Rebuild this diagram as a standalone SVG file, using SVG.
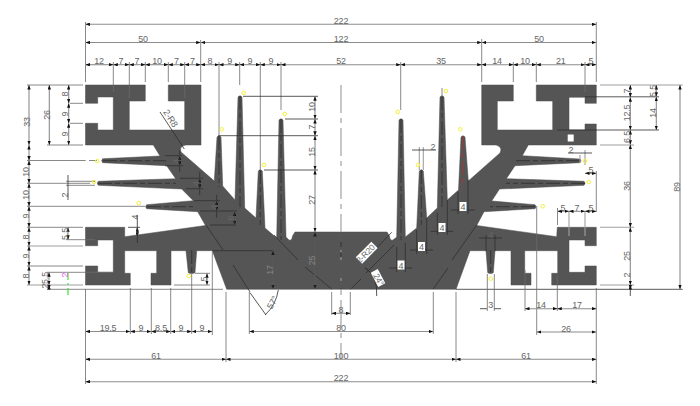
<svg xmlns="http://www.w3.org/2000/svg" width="700" height="406" viewBox="0 0 700 406">
<style>
text{font-family:"Liberation Sans",Arial,sans-serif;font-size:9px;letter-spacing:-.2px;fill:#666;text-anchor:middle}
.p{fill:#555;stroke:#4a4a4a;stroke-width:.5}
.d{stroke:#8c8c8c;stroke-width:1.1;fill:none;marker-start:url(#a);marker-end:url(#a)}
.e{stroke:#6a6a6a;stroke-width:.8;fill:none}
.g{stroke:#a0a0a0;stroke-width:1.1;fill:none}
.k{stroke:#2e2e2e;stroke-width:.8;fill:none}
.c{stroke:#333;stroke-width:.9;fill:none;stroke-dasharray:14 3 5 3}
.y{fill:none;stroke:#f4f03c;stroke-width:1}
.w{fill:#fff}
</style>
<defs>
<marker id="a" viewBox="0 0 8 6" refX="8" refY="3" markerWidth="4.5" markerHeight="3.4" markerUnits="userSpaceOnUse" orient="auto-start-reverse"><path d="M0 0L8 3L0 6Z" fill="#111"/></marker>
</defs>
<rect width="700" height="406" fill="#fff"/>
<path class="p" d="M85.5 85H145.3V101H129.3V130H184.7V101H168.3V85H201V145H186Q179 146 181 152L214.3 181L217 137Q219 134.5 221 137L222.7 186L235 200L238 97Q240 94.5 242 97L244.7 208L256 218L258.3 171Q260.3 168.5 262.3 171L265 228L276.7 238L279 120Q281 117.5 283 120L286 237L289 240Q292 241 292.5 236L295 232H387L389.5 236Q390 241 393 240L396.7 237L399 120Q401 117.5 403 120L405.3 237L416.7 228L419.3 171Q421.3 168.5 423.3 171L426.7 218L437.3 208L440 97Q442 94.5 444 97L447.3 200L458.5 190L461 137Q463 134.5 465 137L468.3 181L500 153Q503 147 496 145H481.7V85H513.3V101H497.3V130H552.7V101H536.3V85H596.3V103.3H585V97.3H569V130H585V124H596.3V145H528.3L522.3 155.7L580 159Q582 160.7 580 162.7L515 165.7L506.3 178.7L584 181.3Q586 183.3 584 185.3L499.5 189L491.7 201L535 204.7Q537 206.7 535 208.7L484 211.7L476.7 225.5L556.7 236.7L557.3 227.3H596.3V245.7H585V240H569V272.3H585V266H596.3V285H551.7V273.3H557.7V250.7H524.7V273.3H531V285H511V250.7H495L493.3 272.7Q490.7 274.5 487.7 272.7L486 250.7H470L456 289.3H226.7L212.3 250.7H196.7L195 272.7Q191.7 274.5 188.3 272.7L186 250.7H171V285H151V273.3H156.7V250.7H124.7V273.3H130.3V285H85.5V266H97.7V272.3H113.3V240H97.7V245.7H85.5V227.3H124.7V236.7L205.5 225.5L197.7 211.7L146.7 208.7Q144.7 206.7 146.7 204.7L193.3 200.7L181.7 189L98.3 185.3Q96.3 183.3 98.3 181.3L175.7 178.7L166.7 165.7L102.7 162.7Q100.7 160.7 102.7 158.7L160 156L153.3 145H85.5V123.3H97.7V130H113.3V97H97.7V103.3H85.5Z"/>
<rect class="w" x="567.7" y="134.5" width="6" height="7"/>
<g id="fin-centres">
<path class="c" d="M103 160.7H166M98 183.3H176M147 206.7H193M580 160.7H516M585 183.3H506M535 206.7H490"/>
<path class="c" d="M219 136V187M240 96V207M260.3 170V225M281 119V240M401 119V240M421.3 170V225M442 96V207M191.7 250V273M490.7 250V273"/>
<path d="M463 136V187" stroke="#a03a3a" stroke-width="1" stroke-dasharray="14 3 5 3" fill="none"/>
</g>
<g id="inner-lines">
<path class="k" d="M206 225L223 250M233 265L250 292M274 235L298 260M305 267L331.7 289M350.7 289L361 279M366 273L394 245M433.3 289L448 268M452 260L476.7 225"/>
<path class="k" d="M212 250.7H273M128 227.3H140M165 155.7H182M165 165.7H183M180 178.3H203M186 188.7H203M194 200.7H220M200 211H237M210 225H236"/>
</g>
<g id="extension-lines">
<path class="e" d="M85.5 22V82M596.3 22V82M200.7 40V82M481.7 39V82M113.3 62V92M129.3 62V98M145.3 62V82M168.3 62V82M184.7 62V98M219 62V135M239.7 62V85M260.3 62V170M281 62V110M400.7 62V110M442 88V97M513.3 62V82M536.3 62V82M585 62V92"/>
<path class="e" d="M27 85H83M47 145H83M27 160.5H85.7M89 160.5H97M27 183.3H90M66 181.3H95M66 185.3H95M27 206.3H145M27 227.3H83M27 266H83M70 103.3H83M70 123.3H83M66 239.7H95M47 272.3H113M47 289.3H223"/>
<path class="g" d="M27 246H83M27 285H83M600 85H682.7M600 145H634M600 227.3H634M600 285H634"/>
<path class="k" d="M585 96.8H659M557 130H659M243 96.3H318M285 119H318M218 135.7H318M264 170H318M456 289.3H682.7"/>
<path class="e" d="M85.5 289V384M596.3 288V384M130.3 288V334M151.3 288V334M170.7 288V334M191.7 273V334M212.3 252V335M226 292V362M456 292V362M249.3 292V334M433.3 292V334M331.7 292V315M350.3 292V315"/>
<path class="e" d="M525 270V311M557.3 276V311M536.7 206V335M487.3 274V311M494.3 274V311M174 285H210M195 273.3H210M596.3 171V212M557.5 208V225"/>
<path class="g" d="M569 211V236M585 211V236M585 150V165M580 155V163M419.3 147V170M423.3 147V170"/>
<path class="k" d="M396.7 247V272M405.3 243V272M416.7 230V254M426.7 218V254M437.3 213V235M447.3 200V235M458 192V214M468 180V214M486 235V251M495 235V251"/>
</g>
<g id="dimensions">
<path class="d" d="M85.5 24.3H596.3"/>
<path class="d" d="M85.5 42.5H200.7"/><path class="d" d="M200.7 42.5H481.7"/><path class="d" d="M481.7 42.5H596.3"/>
<path class="d" d="M85.5 64.7H113.3"/><path class="d" d="M113.3 64.7H129.3"/><path class="d" d="M129.3 64.7H145.3"/><path class="d" d="M145.3 64.7H168.3"/><path class="d" d="M168.3 64.7H184.7"/><path class="d" d="M184.7 64.7H200.7"/><path class="d" d="M200.7 64.7H219"/><path class="d" d="M219 64.7H239.7"/><path class="d" d="M239.7 64.7H260.3"/><path class="d" d="M260.3 64.7H281"/><path class="d" d="M281 64.7H400.7"/><path class="d" d="M400.7 64.7H481.7"/><path class="d" d="M481.7 64.7H513.3"/><path class="d" d="M513.3 64.7H536.3"/><path class="d" d="M536.3 64.7H585"/><path class="d" d="M585 64.7H596.3"/>
<path class="d" d="M29 85V145"/><path class="d" d="M29 145V160.5"/><path class="d" d="M29 160.5V183.3"/><path class="d" d="M29 183.3V206.3"/><path class="d" d="M29 206.3V227.3"/><path class="d" d="M29 227.3V246"/><path class="d" d="M29 246V266"/><path class="d" d="M29 266V285"/>
<path class="d" d="M49.3 85V145"/>
<path class="d" d="M68.7 85V103.3"/><path class="d" d="M68.7 103.3V123.3"/><path class="d" d="M68.7 123.3V145"/>
<path class="d" d="M68 227.3V239.7"/><path class="d" d="M49 272.3V285"/><path class="d" d="M49 285V289.3"/>
<path class="k" d="M68 175V200"/>
<path class="d" d="M137.3 227.3V236.7"/><path class="k" d="M137.3 215V243"/>
<path class="d" d="M179.7 155.7V165.7"/><path class="d" d="M199.7 178.3V188.7"/><path class="d" d="M216.7 200.7V211"/><path class="d" d="M234.7 211.7V225"/>
<path class="k" d="M179.7 150V172M199.7 172V195M216.7 195V218M234.7 211.7V225"/>
<path class="d" d="M207 273.3V285"/>
<path class="d" d="M315 96.3V119"/><path class="d" d="M315 119V135.7"/><path class="d" d="M315 135.7V170"/><path class="d" d="M315 170V232"/><path class="d" d="M315 232V289"/>
<path class="d" d="M273 250.7V289"/>
<path class="k" d="M315 232V289M273 250.7V289"/>
<path class="d" d="M630.3 85V97.3"/><path class="d" d="M630.3 97.3V130"/><path class="d" d="M630.3 130V144.7"/><path class="d" d="M630.3 144.7V227.3"/><path class="d" d="M630.3 227.3V285"/><path class="d" d="M630.3 285V289.3"/><path class="k" d="M630.3 289.3V296"/>
<path class="d" d="M656.3 85V96.8"/><path class="d" d="M656.3 96.8V130"/><path class="d" d="M680 85V289.3"/>
<path class="d" d="M85.5 331.5H130.3"/><path class="d" d="M130.3 331.5H151.3"/><path class="d" d="M151.3 331.5H170.7"/><path class="d" d="M170.7 331.5H191.7"/><path class="d" d="M191.7 331.5H212.3"/>
<path class="d" d="M85.5 359.3H226"/><path class="d" d="M226 359.3H456"/><path class="d" d="M456 359.3H596.3"/>
<path class="d" d="M85.5 381.7H596.3"/>
<path class="d" d="M249.3 331.5H433.3"/><path class="d" d="M331.7 313.3H350.3"/>
<path class="d" d="M557.5 211.3H569"/><path class="d" d="M569 211.3H585"/><path class="d" d="M585 211.3H596.3"/>
<path class="d" d="M585 173.3H596.3"/>
<path class="d" d="M525 308.7H557.3"/><path class="d" d="M557.3 308.7H596.3"/><path class="d" d="M536.7 332H596.3"/>
<path class="k" d="M480 308.7H487M494.3 308.7H501M479 238H502M568 153H592M412 150H436M389.3 268H412.3M410 250H433M430.7 231.3H453M451 210H475"/>
<path class="k" d="M160 112L184.3 149M391.7 232.3L376.7 248M365 267.7L376 277"/>
<path class="k" d="M365 267.7Q378 276 376.7 296M250 292.7L266 315M278.3 290Q276 305 265 315"/>
<path d="M341 85V360" stroke="#999" stroke-width="1.1" fill="none" stroke-dasharray="28 5 5 5"/>
<path d="M341 232V289" stroke="#333" stroke-width="1" fill="none" stroke-dasharray="18 3 4 3"/>
</g>
<g id="markers">
<circle class="y" cx="221.7" cy="129.3" r="1.8"/><circle class="y" cx="243.7" cy="93" r="1.8"/><circle class="y" cx="284.7" cy="114" r="1.8"/><circle class="y" cx="264" cy="165" r="1.8"/><circle class="y" cx="397.7" cy="112" r="1.8"/><circle class="y" cx="418" cy="165" r="1.8"/><circle class="y" cx="446" cy="91" r="1.8"/><circle class="y" cx="460.3" cy="129.3" r="1.8"/><circle class="y" cx="97.3" cy="161" r="1.8"/><circle class="y" cx="94" cy="182" r="1.8"/><circle class="y" cx="138.7" cy="203" r="1.8"/><circle class="y" cx="188.7" cy="276" r="1.8"/><circle class="y" cx="490.7" cy="278.7" r="1.8"/><circle class="y" cx="542.7" cy="206.3" r="1.8"/><circle class="y" cx="585" cy="161" r="1.8"/><circle class="y" cx="588.7" cy="182" r="1.8"/>
<path d="M68 273V296" stroke="#37e637" stroke-width="1.2" fill="none" stroke-dasharray="7 3 2 3"/>
</g>
<g id="masks">
<rect class="w" x="397.5" y="260.5" width="7" height="9"/><rect class="w" x="418" y="242" width="7" height="9"/><rect class="w" x="438.5" y="223" width="7" height="9"/><rect class="w" x="459.5" y="202" width="7" height="9"/>
<rect class="w" x="-11" y="-4.5" width="22" height="9" transform="translate(366.7 252.7) rotate(-45)"/>
<rect class="w" x="-8" y="-4" width="16" height="8" transform="translate(378 278) rotate(62)"/>
</g>
<g id="labels">
<text x="341" y="24">222</text><text x="143" y="42">50</text><text x="341" y="42">122</text><text x="539" y="42">50</text>
<text x="99" y="64">12</text><text x="121" y="64">7</text><text x="137" y="64">7</text><text x="157" y="64">10</text><text x="176.5" y="64">7</text><text x="192.5" y="64">7</text><text x="210" y="64">8</text><text x="229.7" y="64">9</text><text x="250" y="64">9</text><text x="271" y="64">9</text><text x="341" y="64">52</text><text x="441" y="64">35</text><text x="497" y="64">14</text><text x="525" y="64">10</text><text x="560.7" y="64">21</text><text x="591" y="64">5</text>
<g>
<text transform="translate(29.5 122) rotate(-90)">33</text><text transform="translate(49.5 115) rotate(-90)">26</text>
<text transform="translate(68 94) rotate(-90)">8</text><text transform="translate(68 114) rotate(-90)">9</text><text transform="translate(68 134) rotate(-90)">9</text>
<text transform="translate(29 172) rotate(-90)">10</text><text transform="translate(29 195) rotate(-90)">10</text><text transform="translate(29 216) rotate(-90)">9</text><text transform="translate(29 237) rotate(-90)">8</text><text transform="translate(29 256) rotate(-90)">9</text><text transform="translate(29 276) rotate(-90)">8</text>
<text transform="translate(67.5 195) rotate(-90)">2</text><text transform="translate(67.5 234) rotate(-90)">5.5</text><text transform="translate(47.5 278) rotate(-90)">5.5</text><text transform="translate(47.5 286) rotate(-90)">2</text>
<text transform="translate(67.5 275) rotate(-90)" style="fill:#f060f0">2</text>
<text transform="translate(137.5 217) rotate(-90)">4</text><text transform="translate(179 161) rotate(-90)">4</text><text transform="translate(199 183.5) rotate(-90)">4</text><text transform="translate(216.5 207) rotate(-90)">4</text><text transform="translate(234 218) rotate(-90)">6</text><text transform="translate(206.5 279) rotate(-90)">5</text>
<text transform="translate(314.5 107) rotate(-90)">10</text><text transform="translate(314.5 127) rotate(-90)">7</text><text transform="translate(314.5 152) rotate(-90)">15</text><text transform="translate(314.5 200) rotate(-90)">27</text><text transform="translate(314.5 260.5) rotate(-90)" style="fill:#888">25</text><text transform="translate(272.5 270) rotate(-90)" style="fill:#888">17</text>
<text transform="translate(630 91) rotate(-90)">7</text><text transform="translate(630 113) rotate(-90)">12.5</text><text transform="translate(630 137) rotate(-90)">6.5</text><text transform="translate(630 186) rotate(-90)">36</text><text transform="translate(630 256) rotate(-90)">25</text><text transform="translate(630 275) rotate(-90)">2</text>
<text transform="translate(656 91) rotate(-90)">5.5</text><text transform="translate(655.5 113) rotate(-90)">14</text><text transform="translate(679.5 187) rotate(-90)">89</text>
</g>
<text x="108" y="331">19.5</text><text x="141" y="331">9</text><text x="161" y="331">8.5</text><text x="181" y="331">9</text><text x="202" y="331">9</text>
<text x="156" y="359">61</text><text x="341" y="359">100</text><text x="526" y="359">61</text><text x="341" y="381">222</text>
<text x="341" y="331">80</text><text x="341" y="313">8</text>
<text x="563" y="210.5">5</text><text x="577" y="210.5">7</text><text x="591" y="210.5">5</text>
<text x="591" y="173">5</text><text x="571" y="153">2</text><text x="433" y="150">2</text>
<text x="541" y="308">14</text><text x="577" y="308">17</text><text x="566" y="331.5">26</text><text x="490.7" y="308">3</text><text x="490.7" y="238">4</text>
<text x="401" y="268.5">4</text><text x="421.5" y="250">4</text><text x="442" y="231">4</text><text x="463" y="210">4</text>
<text transform="translate(168 120) rotate(58)">2-R8</text>
<text transform="translate(367.5 256) rotate(-45)" style="font-size:8.5px">2-R20</text>
<text transform="translate(376 281) rotate(62)" style="font-size:8.5px">24°</text>
<text transform="translate(275 304) rotate(-60)">57°</text>
</g>
</svg>
